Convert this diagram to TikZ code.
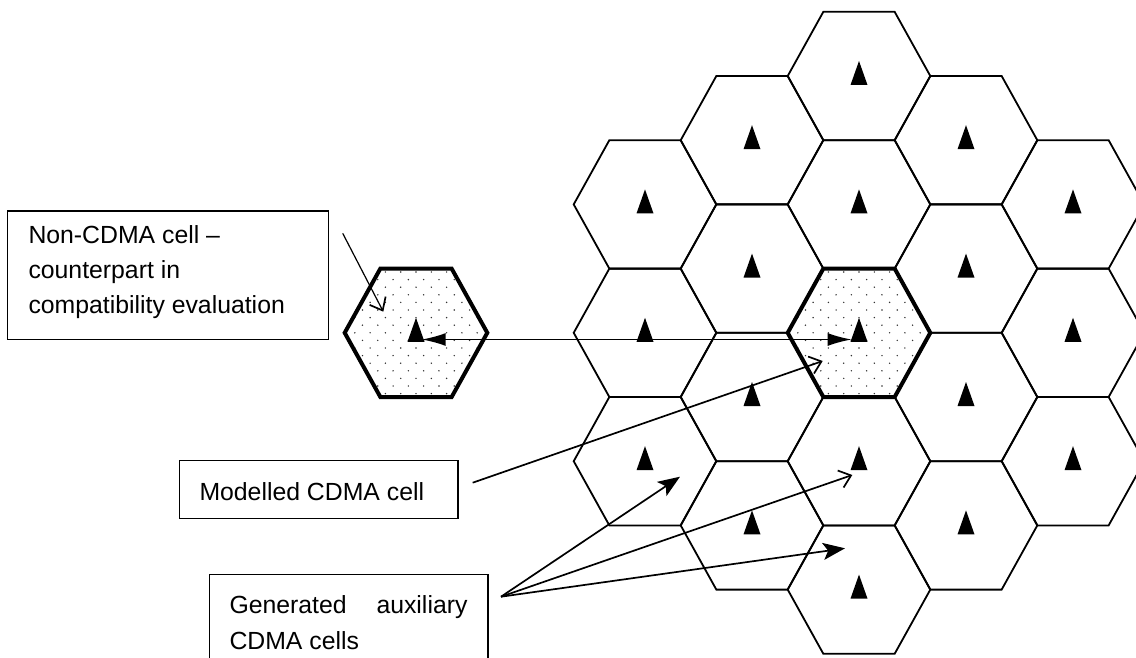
\documentclass[tikz,border=0pt]{standalone}
\usepackage{fontspec}
\setmainfont{Liberation Sans}
\usetikzlibrary{arrows.meta}
\begin{document}
\begin{tikzpicture}[x=1pt,y=-1pt,
  cell/.style={line width=1.8pt, line join=miter},
  modcell/.style={line width=4pt, line join=miter},
  dotc/.style={fill=black!80},
  labelbox/.style={draw, line width=1.6pt, inner sep=0pt, outer sep=0pt, anchor=north west},
  lbl/.style={font=\fontsize{24.8pt}{35pt}\selectfont, inner sep=0pt, anchor=base west},
  conn/.style={line width=1.7pt},
  thinconn/.style={line width=1.2pt},
  solidtip/.style={-{Stealth[length=22pt,width=17pt,inset=5pt]}},
  opentip/.style={-{Straight Barb[length=11pt,width=18pt,line width=1.7pt]}},
  longtip/.style={{Latex[length=24pt,width=13pt]}-{Latex[length=24pt,width=13pt]}},
  hexcell/.pic={
    \draw[cell] (-71.3,0) -- (-35.65,-64.2) -- (35.65,-64.2) -- (71.3,0) -- (35.65,64.2) -- (-35.65,64.2) -- cycle;
    \fill (0,-15) -- (-8.5,9) -- (8.5,9) -- cycle;
  },
  shadedcell/.pic={
    \begin{scope}
      \clip (-71.3,0) -- (-35.65,-64.2) -- (35.65,-64.2) -- (71.3,0) -- (35.65,64.2) -- (-35.65,64.2) -- cycle;
      \foreach \r in {-9,...,9} {
        \pgfmathsetmacro\off{mod(abs(\r),2)*7.65}
        \foreach \c in {-5,...,5} {
          \fill[dotc] (\c*15.3+\off,\r*7.6) circle (0.8pt);
        }
      }
    \end{scope}
    \draw[modcell] (-71.3,0) -- (-35.65,-64.2) -- (35.65,-64.2) -- (71.3,0) -- (35.65,64.2) -- (-35.65,64.2) -- cycle;
    \fill (0,-15) -- (-8.5,9) -- (8.5,9) -- cycle;
  }
]
\useasboundingbox (0,0) rectangle (1136,658);
\clip (0,0) rectangle (1136,658);

% ---- hexagonal CDMA grid ----
\foreach \x/\y/\n in {645/204.4/a1, 645/332.8/a2, 645/461.2/a3,
                      752/140.2/b1, 752/268.6/b2, 752/397.0/b3, 752/525.4/b4,
                      859/76.0/c1, 859/204.4/c2, 859/461.2/c4, 859/589.6/c5,
                      966/140.2/d1, 966/268.6/d2, 966/397.0/d3, 966/525.4/d4,
                      1073/204.4/e1, 1073/332.8/e2, 1073/461.2/e3} {
  \pic at (\x,\y) {hexcell};
  \coordinate (cell-\n) at (\x,\y);
}
% modelled CDMA cell
\pic at (859,332.8) {shadedcell};
\coordinate (cell-c3) at (859,332.8);
% non-CDMA cell
\pic at (416,332.8) {shadedcell};
\coordinate (noncdma) at (416,332.8);

% ---- label boxes ----
\node[labelbox, minimum width=321pt, minimum height=128.3pt] (nbox) at (7.3,211) {};
\node[lbl] (nt1) at (28.3,243.3) {Non-CDMA cell –};
\node[lbl] (nt2) at (28.3,278.3) {counterpart in};
\node[lbl] (nt3) at (28.3,313.3) {compatibility evaluation};

\node[labelbox, minimum width=278.4pt, minimum height=58pt] (mbox) at (179.3,460.3) {};
\node[lbl] (mt1) at (199.3,500) {Modelled CDMA cell};

\node[labelbox, minimum width=278.4pt, minimum height=120pt] (gbox) at (209.3,574.3) {};
\node[lbl] (gt1) at (229.3,613.3) {\makebox[238pt][s]{Generated auxiliary}};
\node[lbl] (gt2) at (229.3,649) {CDMA cells};

% ---- connector end points ----
\coordinate (nstart) at (342.7,233.3);
\coordinate (nend) at (383.3,311.7);
\coordinate (linkL) at (421.7,339.5);
\coordinate (linkR) at (851.7,339.5);
\coordinate (mstart) at (472.7,482.7);
\coordinate (mend) at (822.7,361);
\coordinate (gstart) at (501,596.7);
\coordinate (gend1) at (680,476.7);
\coordinate (gend2) at (852.3,475);
\coordinate (gend3) at (845,548.3);

% ---- connectors ----
\draw[thinconn, opentip] (nstart) -- (nend);
\draw[conn, longtip] (linkL) -- (linkR);
\draw[conn, opentip] (mstart) -- (mend);
\draw[conn, solidtip] (gstart) -- (gend1);
\draw[conn, opentip] (gstart) -- (gend2);
\draw[conn, solidtip] (gstart) -- (gend3);
\end{tikzpicture}
\end{document}
